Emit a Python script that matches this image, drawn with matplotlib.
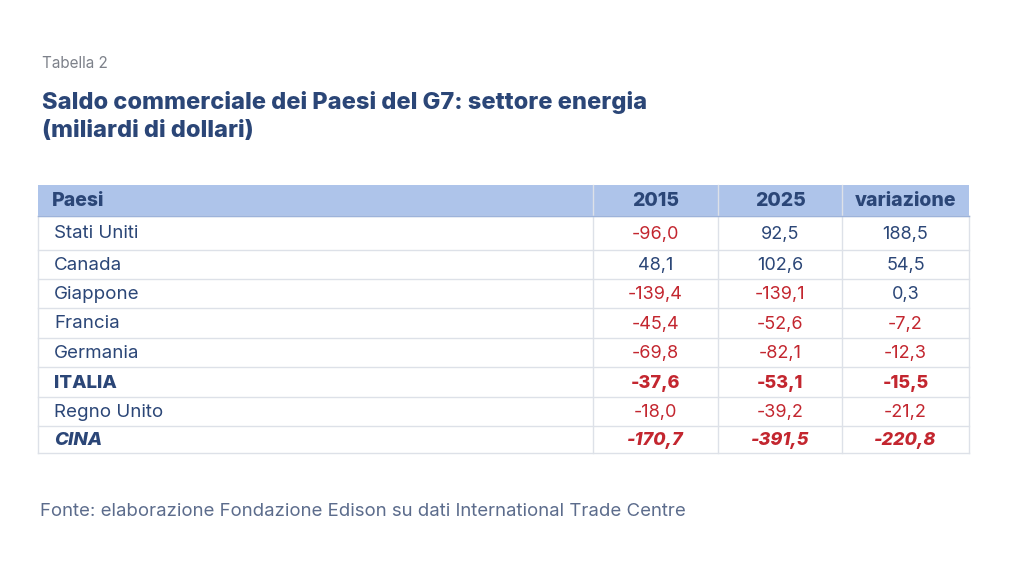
import matplotlib.pyplot as plt
from matplotlib.patches import Rectangle

plt.rcParams['font.family'] = ['Inter', 'DejaVu Sans']

paesi = ["Stati Uniti", "Canada", "Giappone", "Francia", "Germania", "ITALIA", "Regno Unito", "CINA"]
v2015 = [-96.0, 48.1, -139.4, -45.4, -69.8, -37.6, -18.0, -170.7]
v2025 = [92.5, 102.6, -139.1, -52.6, -82.1, -53.1, -39.2, -391.5]
variazione = [188.5, 54.5, 0.3, -7.2, -12.3, -15.5, -21.2, -220.8]
intestazioni = ["Paesi", "2015", "2025", "variazione"]

blu = "#2b4677"
rosso = "#c3262f"
griglia = "#dde1e8"

fig = plt.figure(figsize=(10.24, 5.76), dpi=100)
ax = fig.add_axes([0, 0, 1, 1])
ax.set_xlim(0, 1024)
ax.set_ylim(576, 0)
ax.axis("off")

# layout della tabella (pixel)
x_left, x_right = 38, 969
col_edges = [x_left, 593, 718, 842, x_right]
row_edges = [185, 216, 250, 279, 308, 338, 367, 397, 426, 453]

ax.add_patch(Rectangle((x_left, row_edges[0]), x_right - x_left, row_edges[1] - row_edges[0],
                       facecolor="#aec4ea", edgecolor="none", zorder=1))

for y in row_edges[1:]:
    ax.plot([x_left, x_right], [y, y], color=griglia, lw=1, zorder=2)
ax.plot([x_left, x_left], [row_edges[1], row_edges[-1]], color=griglia, lw=1, zorder=2)
ax.plot([x_right, x_right], [row_edges[1], row_edges[-1]], color=griglia, lw=1, zorder=2)
for x in col_edges[1:-1]:
    ax.plot([x, x], [row_edges[0], row_edges[-1]], color=griglia, lw=1, zorder=2)
ax.plot([x_left, x_right], [row_edges[1], row_edges[1]], color="#9db3da", lw=1, zorder=2)

def fmt(v):
    return f"{v:.1f}".replace(".", ",")

hy = (row_edges[0] + row_edges[1]) / 2 + 1
ax.text(52, hy, intestazioni[0], ha="left", va="center", fontsize=14, fontweight="heavy", color=blu)
for j, h in enumerate(intestazioni[1:]):
    cx = (col_edges[j + 1] + col_edges[j + 2]) / 2
    ax.text(cx, hy, h, ha="center", va="center", fontsize=14, fontweight="heavy", color=blu)

for i, nome in enumerate(paesi):
    cy = (row_edges[i + 1] + row_edges[i + 2]) / 2 + 1
    peso = "heavy" if nome in ("ITALIA", "CINA") else "normal"
    stile = "italic" if nome == "CINA" else "normal"
    ax.text(54, cy, nome, ha="left", va="center", fontsize=13.5, color=blu,
            fontweight=peso, fontstyle=stile)
    for j, serie in enumerate([v2015, v2025, variazione]):
        v = serie[i]
        cx = (col_edges[j + 1] + col_edges[j + 2]) / 2
        ax.text(cx, cy, fmt(v), ha="center", va="center", fontsize=13,
                color=rosso if v < 0 else blu, fontweight=peso, fontstyle=stile)

ax.text(42, 63, "Tabella 2", ha="left", va="center", fontsize=11, color="#7d818a")
ax.text(42, 103, "Saldo commerciale dei Paesi del G7: settore energia", ha="left", va="center",
        fontsize=17, fontweight="heavy", color=blu)
ax.text(42, 131, "(miliardi di dollari)", ha="left", va="center",
        fontsize=17, fontweight="heavy", color=blu)
ax.text(40, 511, "Fonte: elaborazione Fondazione Edison su dati International Trade Centre",
        ha="left", va="center", fontsize=13.4, color="#5c6c8c")

fig.savefig("out.png", dpi=100, facecolor="white")
